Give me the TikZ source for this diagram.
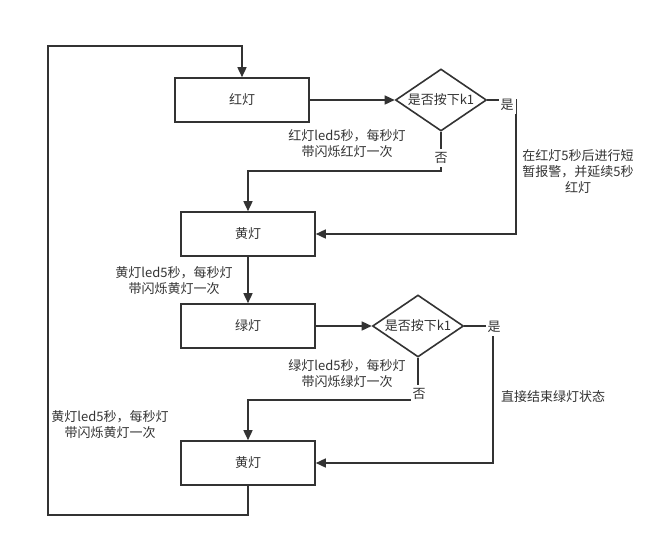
\documentclass[tikz,border=0pt]{standalone}
\usepackage{fontspec}
\setmainfont{Noto Sans CJK SC}
\usetikzlibrary{shapes.geometric,arrows.meta}
\definecolor{ink}{HTML}{333333}
\tikzset{
  every node/.style={font=\fontsize{13}{16}\selectfont, text=ink},
  box/.style={draw=ink, line width=1.6pt, minimum width=134pt, minimum height=44pt, inner sep=0pt},
  dia/.style={draw=ink, diamond, line width=1.6pt, minimum width=91pt, minimum height=62pt, inner sep=0pt},
  conn/.style={draw=ink, line width=1.5pt, -{Triangle[length=10pt,width=9pt]}},
  lbl/.style={fill=white, inner xsep=2pt, inner ysep=3pt},
  note/.style={align=center, inner sep=0pt}
}
\begin{document}
\begin{tikzpicture}[x=1pt,y=-1pt]
\useasboundingbox (0,0) rectangle (670,547);
\fill[white] (0,0) rectangle (670,547);

\node[box] (b1) at (242,100) {红灯};
\node[dia] (d1) at (441,100) {};
\node at (d1) {是否按下k1};
\node[box] (b2) at (248,234) {黄灯};
\node[box] (b3) at (248,326) {绿灯};
\node[dia] (d2) at (418,326) {};
\node at (d2) {是否按下k1};
\node[box] (b4) at (248,463) {黄灯};

\coordinate (c1) at (516,100);
\coordinate (c2) at (516,234);
\coordinate (c3) at (441,171);
\coordinate (c4) at (248,171);
\coordinate (c5) at (493,326);
\coordinate (c6) at (493,463);
\coordinate (c7) at (418,400);
\coordinate (c8) at (248,400);
\coordinate (c9) at (248,515);
\coordinate (c10) at (48,515);
\coordinate (c11) at (48,46);
\coordinate (c12) at (242,46);

\path[conn] (b1) -- (d1);
\path[conn] (d1.east) -- (c1) -- (c2) -- (b2.east);
\path[conn] (d1.south) -- (c3) -- (c4) -- (b2.north);
\path[conn] (b2) -- (b3);
\path[conn] (b3) -- (d2);
\path[conn] (d2.east) -- (c5) -- (c6) -- (b4.east);
\path[conn] (d2.south) -- (c7) -- (c8) -- (b4.north);
\path[conn] (b4.south) -- (c9) -- (c10) -- (c11) -- (c12) -- (b1.north);

\node[lbl] (y1) at (507,105) {是};
\node[lbl] (n1) at (441,158) {否};
\node[lbl] (y2) at (494,327) {是};
\node[lbl] (n2) at (419,394) {否};

\node[note] (t1) at (347,144) {红灯led5秒，每秒灯\\带闪烁红灯一次};
\node[note] (t2) at (578,172) {在红灯5秒后进行短\\暂报警，并延续5秒\\红灯};
\node[note] (t3) at (174,281) {黄灯led5秒，每秒灯\\带闪烁黄灯一次};
\node[note] (t4) at (347,374) {绿灯led5秒，每秒灯\\带闪烁绿灯一次};
\node[note] (t5) at (553,397) {直接结束绿灯状态};
\node[note] (t6) at (110,425) {黄灯led5秒，每秒灯\\带闪烁黄灯一次};
\end{tikzpicture}
\end{document}
